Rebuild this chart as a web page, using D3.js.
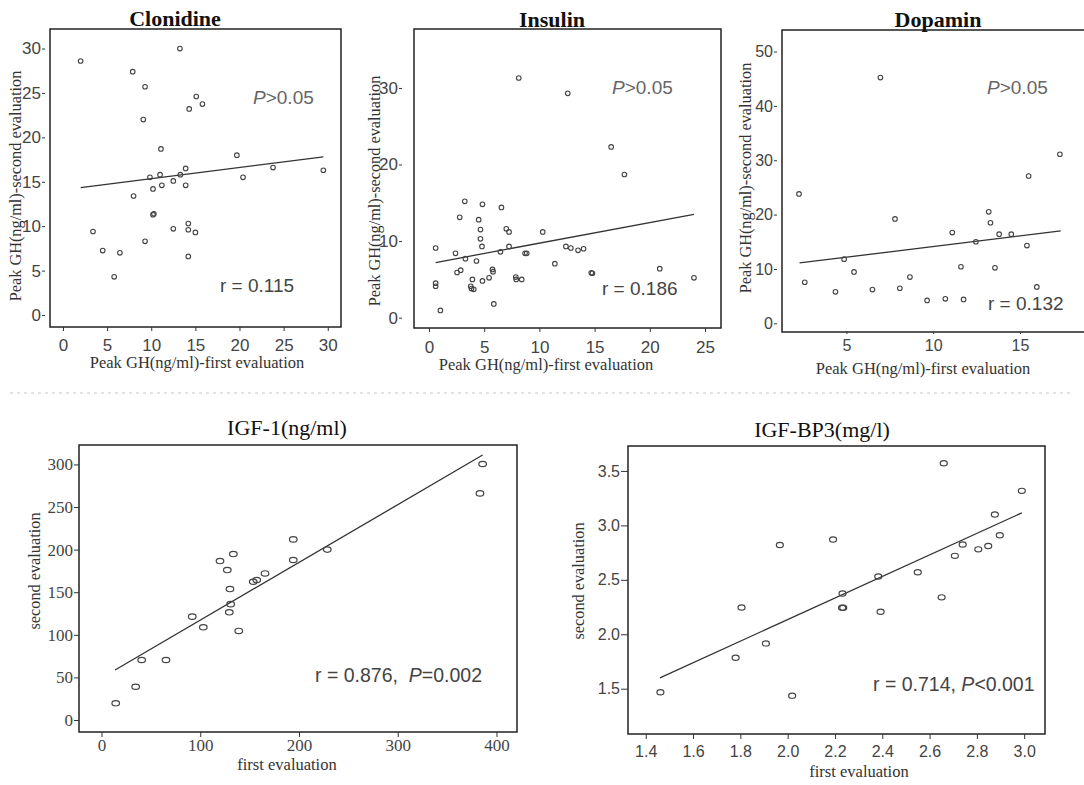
<!DOCTYPE html>
<html><head><meta charset="utf-8">
<script src="https://cdn.jsdelivr.net/npm/d3@7"></script>
<style>body{margin:0;background:#fff}</style>
</head><body>
<svg id="c" width="1084" height="785"></svg>
<script>
// ---------- data ----------
const clonidineX=[2.0,13.25,7.9,9.3,9.1,15.1,14.3,15.8,11.1,19.7,9.85,11.0,13.9,13.3,12.5,11.2,10.2,13.9,20.4,23.8,29.5,8.0,10.2,10.3,3.4,4.5,6.45,5.8,9.3,12.5,14.2,14.2,15.0,14.2];
const clonidineY=[28.6,30.0,27.4,25.7,22.0,24.6,23.2,23.75,18.7,18.0,15.5,15.8,16.5,15.8,15.1,14.6,14.2,14.6,15.5,16.6,16.3,13.4,11.3,11.4,9.4,7.25,7.0,4.3,8.3,9.7,10.3,9.6,9.3,6.6];
const clonidineFitX=[2.0,29.5], clonidineFitY=[14.35,17.8];

const insulinX=[8.13,12.57,16.5,17.7,3.24,4.84,6.56,2.78,4.5,4.66,7.0,7.25,10.3,4.66,0.6,4.8,7.25,12.4,12.85,13.5,14.0,2.4,6.47,8.7,8.85,3.3,4.3,11.4,2.54,2.87,5.75,5.8,14.7,14.8,20.9,24.0,0.6,0.6,3.93,3.78,4.05,3.85,4.84,5.44,7.86,7.9,8.4,5.87,1.03];
const insulinY=[31.3,29.3,22.3,18.7,15.2,14.8,14.4,13.1,12.8,11.5,11.6,11.2,11.2,10.3,9.1,9.3,9.3,9.3,9.1,8.8,9.0,8.4,8.6,8.4,8.4,7.7,7.4,7.05,5.9,6.2,6.3,6.0,5.85,5.8,6.4,5.2,4.5,4.1,5.0,4.1,3.7,3.8,4.8,5.2,5.3,5.0,5.0,1.8,0.95];
const insulinFitX=[0.6,24.0], insulinFitY=[7.2,13.5];

const dopaminX=[6.96,2.27,15.5,17.3,7.8,13.2,13.3,11.1,13.8,14.5,12.46,15.4,4.87,5.44,11.6,13.56,8.66,2.6,4.37,6.5,8.08,15.97,9.65,10.7,11.75];
const dopaminY=[45.2,23.8,27.1,31.1,19.2,20.5,18.5,16.7,16.4,16.4,15.0,14.3,11.8,9.45,10.4,10.2,8.5,7.55,5.8,6.2,6.45,6.7,4.2,4.5,4.4];
const dopaminFitX=[2.3,17.35], dopaminFitY=[11.1,17.0];

const igf1X=[386,383.3,194.2,228.7,194.2,120,133.5,127.4,165.6,157.2,153.7,130.1,130.8,129.4,91.9,103.1,139,40.7,65.3,34.6,14.4];
const igf1Y=[300.5,266,212,200,187.8,186.6,194.8,176,172,164.3,162.3,153.7,136,126.4,121.3,108.8,104.5,70.4,70.4,39,19.6];
const igf1FitX=[13.7,386], igf1FitY=[58.7,311];

const igfbp3X=[2.66,2.99,2.876,2.897,1.967,2.192,2.74,2.707,2.806,2.848,2.55,2.383,2.232,2.651,2.23,2.235,1.805,2.393,1.908,1.78,1.462,2.019];
const igfbp3Y=[3.57,3.317,3.10,2.91,2.82,2.87,2.825,2.72,2.78,2.81,2.57,2.53,2.375,2.339,2.243,2.243,2.246,2.207,1.916,1.784,1.467,1.436];
const igfbp3FitX=[1.46,2.99], igfbp3FitY=[1.60,3.115];

// tick values
const clonidineXTicks=[0,5,10,15,20,25,30], clonidineYTicks=[0,5,10,15,20,25,30];
const insulinXTicks=[0,5,10,15,20,25], insulinYTicks=[0,10,20,30];
const dopaminXTicks=[5,10,15], dopaminYTicks=[0,10,20,30,40,50];
const igf1XTicks=[0,100,200,300,400], igf1YTicks=[0,50,100,150,200,250,300];
const igfbp3XTicks=[1.4,1.6,1.8,2.0,2.2,2.4,2.6,2.8,3.0], igfbp3YTicks=[1.5,2.0,2.5,3.0,3.5];

// texts
const titles=["Clonidine","Insulin","Dopamin","IGF-1(ng/ml)","IGF-BP3(mg/l)"];
const xTitles=["Peak GH(ng/ml)-first evaluation","Peak GH(ng/ml)-first evaluation","Peak GH(ng/ml)-first evaluation","first evaluation","first evaluation"];
const yTitles=["Peak GH(ng/ml)-second evaluation","Peak GH(ng/ml)-second evaluation","Peak GH(ng/ml)-second evaluation","second evaluation","second evaluation"];
const rTexts=["r = 0.115","r = 0.186","r = 0.132","r = 0.876,  ","r = 0.714, "];
const pTexts=[">0.05",">0.05",">0.05","=0.002","<0.001"];

// ---------- layout ----------
const SERIF="'Liberation Serif','Times New Roman',serif";
const SANS="'Liberation Sans',Arial,sans-serif";
const panels=[
 {xs:clonidineX,ys:clonidineY,fx:clonidineFitX,fy:clonidineFitY,xt:clonidineXTicks,yt:clonidineYTicks,
  box:[50,29,341,327],xDom:[-1.47,31.5],yDom:[-1.35,32.2],
  title:[175,26],titleW:"bold",xTitle:[197,368],yTitle:[15,186],yOff:5,yTick:3,xTick:4,xPad:8,
  tickFont:SANS,tickSize:17,marker:"c",pPos:[253,104],rPos:[220,292],pSep:true,fmt:d3.format("d")},
 {xs:insulinX,ys:insulinY,fx:insulinFitX,fy:insulinFitY,xt:insulinXTicks,yt:insulinYTicks,
  box:[414,29,721,328],xDom:[-1.36,26.45],yDom:[-1.35,37.7],
  title:[552,27],titleW:"bold",xTitle:[546,370],yTitle:[374,191],yOff:12,yTick:3,xTick:4,xPad:8.6,
  tickFont:SANS,tickSize:17,marker:"c",pPos:[612,94],rPos:[602,295],pSep:true,fmt:d3.format("d")},
 {xs:dopaminX,ys:dopaminY,fx:dopaminFitX,fy:dopaminFitY,xt:dopaminXTicks,yt:dopaminYTicks,
  box:[782,30,1092,332],xDom:[1.29,19.15],yDom:[-1.6,53.96],
  title:[938,27],titleW:"bold",xTitle:[923,374],yTitle:[745,178],yOff:5,yTick:3,xTick:2,xPad:6,
  tickFont:SANS,tickSize:16,marker:"c",pPos:[987,94],rPos:[988,310],pSep:true,fmt:d3.format("d")},
 {xs:igf1X,ys:igf1Y,fx:igf1FitX,fy:igf1FitY,xt:igf1XTicks,yt:igf1YTicks,
  box:[79,445,517,732],xDom:[-22.8,420.8],yDom:[-14.1,322.8],
  title:[287,435],titleW:"normal",xTitle:[287,770],yTitle:[34,571],yOff:0,yTick:5,xTick:5,xPad:2,
  tickFont:SERIF,tickSize:17,marker:"e",pPos:null,rPos:[315,682],pSep:false,fmt:d3.format("d")},
 {xs:igfbp3X,ys:igfbp3Y,fx:igfbp3FitX,fy:igfbp3FitY,xt:igfbp3XTicks,yt:igfbp3YTicks,
  box:[628,446,1045,734],xDom:[1.325,3.088],yDom:[1.084,3.729],
  title:[822,437],titleW:"normal",xTitle:[859,777],yTitle:[578,581],yOff:0,yTick:7,xTick:5,xPad:7,
  tickFont:SANS,tickSize:16,marker:"e2",pPos:null,rPos:[873,691],pSep:false,fmt:d3.format(".1f")}
];

const svg=d3.select("#c");
svg.append("rect").attr("width",1084).attr("height",785).attr("fill","#fff");
// faint separator between rows
svg.append("line").attr("x1",10).attr("x2",1074).attr("y1",393).attr("y2",393)
  .attr("stroke","#e2e2e2").attr("stroke-width",2).attr("stroke-dasharray","3,4");

panels.forEach((p,i)=>{
  const [L,T,R,B]=p.box;
  const x=d3.scaleLinear().domain(p.xDom).range([L,R]);
  const y=d3.scaleLinear().domain(p.yDom).range([B,T]);
  const g=svg.append("g");
  // frame
  g.append("rect").attr("x",L).attr("y",T).attr("width",R-L).attr("height",B-T)
    .attr("fill","none").attr("stroke","#222").attr("stroke-width",1.5);
  // axes
  const xa=g.append("g").attr("transform",`translate(0,${B})`)
    .call(d3.axisBottom(x).tickValues(p.xt).tickFormat(p.fmt).tickSize(p.xTick).tickPadding(p.xPad));
  const ya=g.append("g").attr("transform",`translate(${L-p.yOff},0)`)
    .call(d3.axisLeft(y).tickValues(p.yt).tickFormat(p.fmt).tickSize(p.yTick).tickPadding(1));
  [xa,ya].forEach(a=>{
    a.select(".domain").remove();
    a.selectAll("line").attr("stroke","#333");
    a.selectAll("text").attr("font-family",p.tickFont).attr("font-size",p.tickSize).attr("fill","#444");
  });
  // title
  g.append("text").attr("x",p.title[0]).attr("y",p.title[1]).attr("text-anchor","middle")
    .attr("font-family",SERIF).attr("font-size",22).attr("font-weight",p.titleW).attr("fill","#111").text(titles[i]);
  // axis titles
  g.append("text").attr("x",p.xTitle[0]).attr("y",p.xTitle[1]).attr("text-anchor","middle")
    .attr("font-family",SERIF).attr("font-size",16.5).attr("fill","#333").text(xTitles[i]);
  g.append("text").attr("transform",`translate(${p.yTitle[0]},${p.yTitle[1]}) rotate(-90)`)
    .attr("text-anchor","middle").attr("dy","0.35em")
    .attr("font-family",SERIF).attr("font-size",16.3).attr("fill","#333").text(yTitles[i]);
  // fit line
  g.append("line").attr("x1",x(p.fx[0])).attr("y1",y(p.fy[0])).attr("x2",x(p.fx[1])).attr("y2",y(p.fy[1]))
    .attr("stroke","#333").attr("stroke-width",1.3);
  // points
  const pts=p.xs.map((v,k)=>[v,p.ys[k]]);
  if(p.marker==="c"){
    g.selectAll("circle.pt").data(pts).join("circle").attr("class","pt")
      .attr("cx",d=>x(d[0])).attr("cy",d=>y(d[1])).attr("r",2.3)
      .attr("fill","none").attr("stroke","#444").attr("stroke-width",1.1);
  } else {
    const rx=p.marker==="e"?3.8:3.5, ry=p.marker==="e"?2.7:2.6;
    g.selectAll("ellipse.pt").data(pts).join("ellipse").attr("class","pt")
      .attr("cx",d=>x(d[0])).attr("cy",d=>y(d[1])).attr("rx",rx).attr("ry",ry)
      .attr("fill","none").attr("stroke","#444").attr("stroke-width",1.2);
  }
  // annotations
  if(p.pSep){
    const t=g.append("text").attr("x",p.pPos[0]).attr("y",p.pPos[1])
      .attr("font-family",SANS).attr("font-size",19).attr("fill","#666");
    t.append("tspan").attr("font-style","italic").text("P");
    t.append("tspan").text(pTexts[i]);
    g.append("text").attr("x",p.rPos[0]).attr("y",p.rPos[1])
      .attr("font-family",SANS).attr("font-size",19).attr("fill","#444").text(rTexts[i]);
  } else {
    const t=g.append("text").attr("x",p.rPos[0]).attr("y",p.rPos[1]).attr("xml:space","preserve")
      .attr("font-family",SANS).attr("font-size",19.5).attr("fill","#444");
    t.append("tspan").text(rTexts[i]);
    t.append("tspan").attr("font-style","italic").text("P");
    t.append("tspan").text(pTexts[i]);
  }
});
</script>
</body></html>
